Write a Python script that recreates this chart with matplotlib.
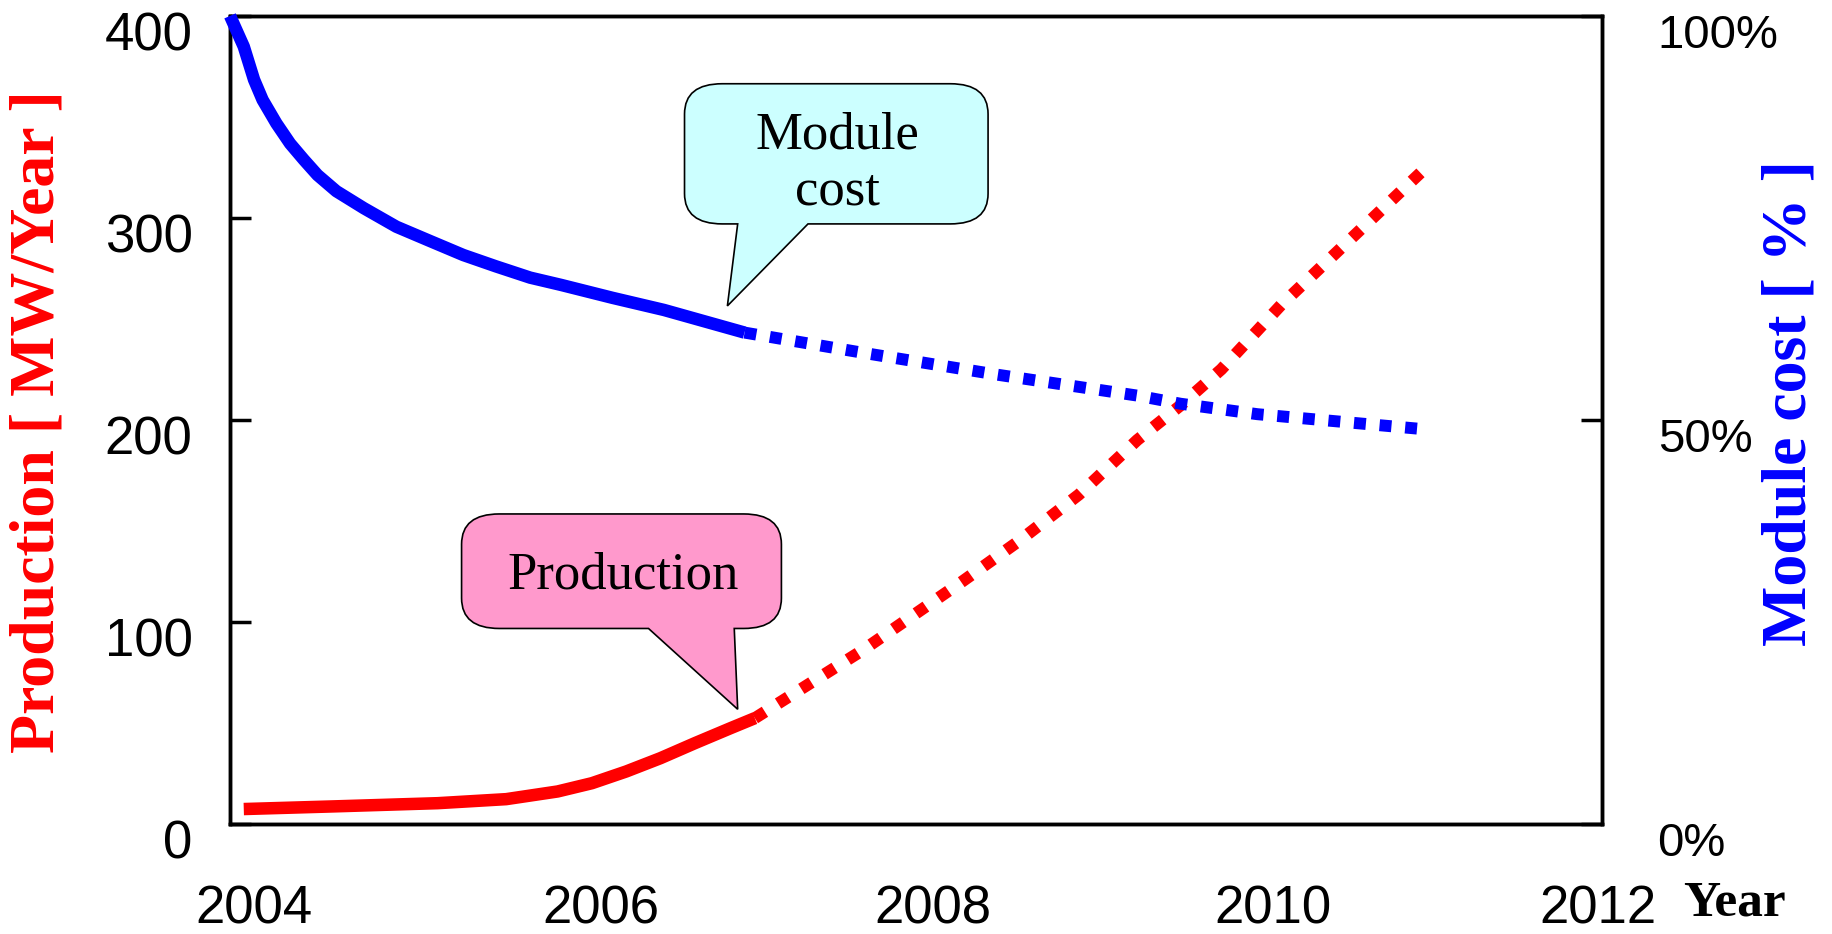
import matplotlib
matplotlib.use("Agg")
import matplotlib.pyplot as plt
import matplotlib.transforms as mtransforms
from matplotlib.path import Path
from matplotlib.patches import PathPatch

# 生产量 (MW/Year)，实线为实际值，点线为预测值
prod_years = [2004.08, 2004.60, 2005.21, 2005.61, 2005.91, 2006.11, 2006.31,
              2006.51, 2006.71, 2006.92, 2007.06]
prod_actual = [7.3, 8.6, 10.2, 12.2, 16.0, 20.1, 25.9, 32.5, 39.9, 47.4, 52.3]
prod_fc_years = [2007.06, 2007.69, 2008.27, 2008.60, 2008.95, 2009.29,
                 2009.54, 2009.78, 2010.13, 2010.54, 2011.0]
prod_forecast = [52.3, 86, 120, 140, 163, 190, 207, 225, 257, 290, 327]

# 组件成本 (%)
cost_years = [2004.0, 2004.08, 2004.14, 2004.19, 2004.27, 2004.35, 2004.43,
              2004.51, 2004.62, 2004.78, 2004.97, 2005.17, 2005.36, 2005.55,
              2005.75, 2005.93, 2006.23, 2006.53, 2007.0]
cost_actual = [100, 96.2, 92.1, 89.6, 86.7, 84.2, 82.2, 80.3, 78.3, 76.2, 73.9,
               72.1, 70.4, 69.0, 67.6, 66.7, 65.1, 63.6, 60.8]
cost_fc_years = [2007.0, 2007.69, 2008.47, 2009.29, 2009.54, 2009.99, 2010.93]
cost_forecast = [60.8, 58.3, 55.6, 53.0, 52.0, 50.7, 48.9]

x_ticks = [2004, 2006, 2008, 2010, 2012]
left_ticks = [0, 100, 200, 300, 400]
right_ticks = [0, 50, 100]
right_labels = ["0%", "50%", "100%"]

RED = "#ff0000"
BLUE = "#0000ff"
tick_font = "Liberation Sans"
tick_size = 38
serif = ["Liberation Serif", "DejaVu Serif"]


def callout(ax, x0, x1, y0, y1, base_a, base_b, tip, fc, rx=0.22, ry=15):
    verts = [(x0 + rx, y0), (base_a, y0), tip, (base_b, y0), (x1 - rx, y0),
             (x1, y0), (x1, y0 + ry), (x1, y1 - ry), (x1, y1), (x1 - rx, y1),
             (x0 + rx, y1), (x0, y1), (x0, y1 - ry), (x0, y0 + ry),
             (x0, y0), (x0 + rx, y0), (x0 + rx, y0)]
    codes = [Path.MOVETO, Path.LINETO, Path.LINETO, Path.LINETO, Path.LINETO,
             Path.CURVE3, Path.CURVE3, Path.LINETO, Path.CURVE3, Path.CURVE3,
             Path.LINETO, Path.CURVE3, Path.CURVE3, Path.LINETO,
             Path.CURVE3, Path.CURVE3, Path.CLOSEPOLY]
    patch = PathPatch(Path(verts, codes), facecolor=fc, edgecolor="black",
                      lw=1.2, zorder=4)
    ax.add_patch(patch)


fig = plt.figure(figsize=(18.33, 9.34), dpi=100)
ax = fig.add_axes([0.1255, 0.118, 0.7485, 0.865])
ax2 = ax.twinx()

ax.set_xlim(2004, 2012)
ax.set_ylim(0, 400)
ax2.set_ylim(0, 100)

# 生产量曲线
ax.plot(prod_years, prod_actual, color=RED, lw=9, solid_capstyle="butt",
        solid_joinstyle="round", zorder=3)
ax.plot(prod_fc_years, prod_forecast, color=RED, lw=8.6,
        linestyle=(0, (1.0, 1.3)), dash_capstyle="butt", zorder=3)

# 成本曲线
ax2.plot(cost_years, cost_actual, color=BLUE, lw=9, solid_capstyle="butt",
         solid_joinstyle="round", zorder=3, clip_on=False)
ax2.plot(cost_fc_years, cost_forecast, color=BLUE, lw=8.6,
         linestyle=(0, (1.0, 1.15)), dash_capstyle="butt", zorder=3)

# 标注框
callout(ax, 2006.65, 2008.42, 297, 366.4, 2006.96, 2007.37, (2006.90, 256.4), "#ccffff")
ax.text(2007.54, 327, "Module\ncost", ha="center", va="center", fontsize=38,
        family=serif, linespacing=1.2, zorder=5)
callout(ax, 2005.35, 2007.215, 96.7, 153.4, 2006.44, 2006.94, (2006.96, 56.7), "#ff99cc")
ax.text(2006.29, 122.7, "Production", ha="center", va="center", fontsize=38,
        family=serif, zorder=5)

# 坐标轴样式
for a in (ax, ax2):
    for s in a.spines.values():
        s.set_linewidth(2.5)

ax.set_xticks(x_ticks)
ax.set_xticklabels([str(x) for x in x_ticks])
ax.set_yticks(left_ticks)
ax.set_yticklabels([str(v) for v in left_ticks])
ax.tick_params(axis="y", direction="in", length=15, width=2.5, pad=27,
               labelsize=tick_size)
ax.tick_params(axis="x", direction="inout", length=6, width=1.5, color="white",
               pad=41, labelsize=tick_size)
ax2.set_yticks(right_ticks)
ax2.set_yticklabels(right_labels)
ax2.tick_params(axis="y", direction="in", length=15, width=2.5, pad=40,
                labelsize=34)

for lab in ax.get_xticklabels() + ax.get_yticklabels() + ax2.get_yticklabels():
    lab.set_family(tick_font)

shift_y = mtransforms.ScaledTranslation(0, -15 / 100, fig.dpi_scale_trans)
for lab in ax.get_yticklabels() + ax2.get_yticklabels():
    lab.set_transform(lab.get_transform() + shift_y)
x_offsets = [24, 28, 17, 14, -4]
for lab, dx in zip(ax.get_xticklabels(), x_offsets):
    shift_x = mtransforms.ScaledTranslation(dx / 100, 0, fig.dpi_scale_trans)
    lab.set_transform(lab.get_transform() + shift_x)

# 轴标题
fig.text(0.021, 0.549, "Production [ MW/Year ]", rotation=90, ha="center",
         va="center", color=RED, fontsize=46, fontweight="bold", family=serif)
fig.text(0.977, 0.568, "Module cost [ % ]", rotation=90, ha="center",
         va="center", color=BLUE, fontsize=46, fontweight="bold", family=serif)
fig.text(0.9465, 0.033, "Year", ha="center", va="center", color="black",
         fontsize=37, fontweight="bold", family=serif)

fig.savefig("out.png", dpi=100)
